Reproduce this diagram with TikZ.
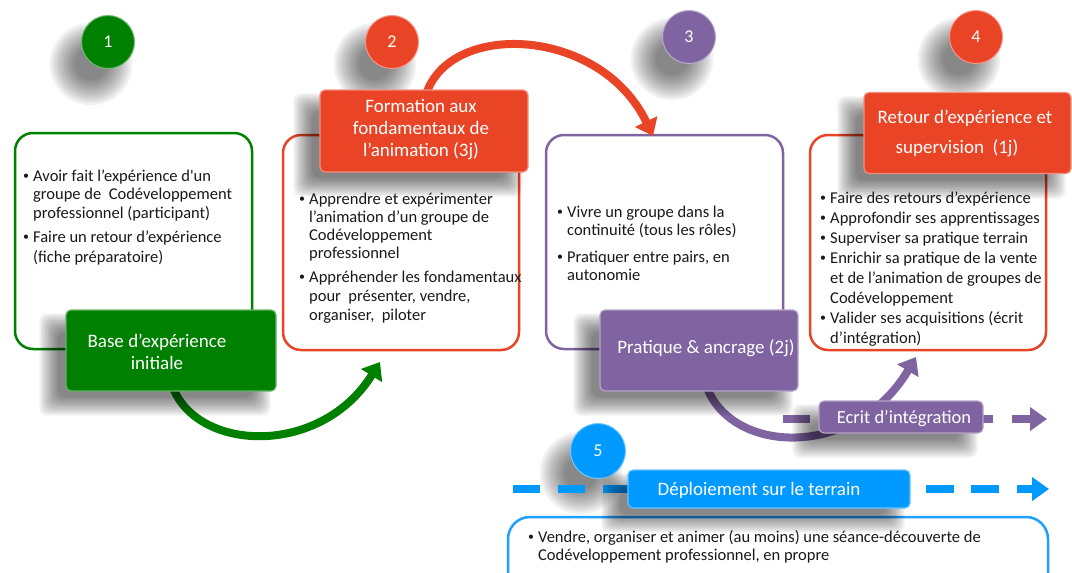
\documentclass[tikz,border=0pt]{standalone}
\usepackage{fontspec}
\setmainfont{Carlito}
\usetikzlibrary{arrows.meta}
\definecolor{cgreen}{RGB}{0,128,0}
\definecolor{cred}{RGB}{233,68,38}
\definecolor{cpurple}{RGB}{128,100,162}
\definecolor{cblue}{RGB}{0,153,255}
\definecolor{cblueline}{RGB}{30,160,255}
\definecolor{tdark}{RGB}{25,25,25}
\newcommand{\bul}[1]{\makebox[10pt][l]{\raisebox{1.2pt}{\scalebox{0.72}{\textbullet}}}\begin{tabular}[t]{@{}l@{}}#1\end{tabular}}
% soft shadow of a rectangle x1 y1 x2 y2
\newcommand{\labshadow}[4]{%
  \foreach \i in {0,...,11}{%
    \fill[black, fill opacity=0.05, rounded corners=8pt]
      ({#1-16+8-\i*1.7},{#2+14+8-\i*1.7}) rectangle ({#3-16-8+\i*1.7},{#4+14-8+\i*1.7});}}
% soft shadow of a ball at cx cy
\newcommand{\ballshadow}[2]{%
  \foreach \i in {0,...,11}{%
    \fill[black, fill opacity=0.05] ({#1-17},{#2+22}) circle ({16+\i*2.3});}}
\tikzset{
  outline/.style={draw, rounded corners=18pt, line width=2.5pt, fill=white, inner sep=0pt},
  lbox/.style={rounded corners=5pt, inner sep=0pt, line width=1.2pt},
  ball/.style={circle, minimum size=53pt, inner sep=0pt, text=white, line width=1pt,
     font=\fontsize{18}{20}\selectfont},
  bitem/.style={anchor=base west, inner sep=0pt, text=tdark, font=\fontsize{16.5}{18.5}\selectfont},
  ltext/.style={text=white, font=\fontsize{19}{22}\selectfont, align=center, inner sep=0pt},
  bigarrow/.style={line width=8pt, -{Triangle[width=24pt,length=16pt]}},
  dashseg/.style={line width=8pt},
  dasharrow/.style={line width=8pt, -{Triangle[width=23pt,length=17pt]}},
}
\begin{document}
\begin{tikzpicture}[x=1pt,y=-1pt]
\useasboundingbox (0,0) rectangle (1072,573);
\clip (0,0) rectangle (1072,573);

% numbered balls
\ballshadow{108}{42}
\ballshadow{392}{42}
\ballshadow{689}{37}
\ballshadow{976}{37}
\ballshadow{598}{451}
\node[ball, fill=cgreen, draw=cgreen!55!white] (n1) at (108,42) {1};
\node[ball, fill=cred, draw=cred!55!white] (n2) at (392,42) {2};
\node[ball, fill=cpurple, draw=cpurple!55!white] (n3) at (689,37) {3};
\node[ball, fill=cred, draw=cred!55!white] (n4) at (976,37) {4};
\node[ball, fill=cblue, draw=cblue!55!white, minimum size=55pt] (n5) at (598,451) {5};

% outline boxes
\node[outline, draw=cgreen, minimum width=237pt, minimum height=216pt] (box1) at (133.5,241) {};
\node[outline, draw=cred, minimum width=236pt, minimum height=215pt] (box2) at (401,242.5) {};
\node[outline, draw=cpurple, minimum width=237pt, minimum height=214pt] (box3) at (664.5,242) {};
\node[outline, draw=cred, minimum width=236pt, minimum height=215pt] (box4) at (928,242.5) {};
\node[outline, draw=cblueline, minimum width=540pt, minimum height=100pt, rounded corners=22pt] (box5) at (778,567) {};

% curved arrows
\coordinate (gS) at (172,385);
\coordinate (gT) at (380,362);
\draw[bigarrow, cgreen] (gS) .. controls (195,452) and (320,458) .. (gT);
\coordinate (rS) at (425,98);
\coordinate (rT) at (653,136);
\draw[bigarrow, cred] (rS) .. controls (445,20) and (600,25) .. (rT);
\coordinate (pS) at (706,385);
\coordinate (pT) at (916,357);
\draw[bigarrow, cpurple] (pS) .. controls (730,455) and (855,460) .. (pT);

% dashed purple line
\coordinate (pd1) at (783,419); \coordinate (pd2) at (810,419);
\coordinate (pd3) at (970,419); \coordinate (pd4) at (993,419);
\coordinate (pd5) at (1012,419); \coordinate (pd6) at (1047,419);
\draw[dashseg, cpurple] (pd1) -- (pd2);
\draw[dashseg, cpurple] (pd3) -- (pd4);
\draw[dasharrow, cpurple] (pd5) -- (pd6);

% dashed blue line
\coordinate (bd1) at (513,489); \coordinate (bd2) at (540,489);
\coordinate (bd3) at (558,489); \coordinate (bd4) at (585,489);
\coordinate (bd5) at (603,489); \coordinate (bd6) at (635,489);
\coordinate (bd7) at (926,489); \coordinate (bd8) at (954,489);
\coordinate (bd9) at (971,489); \coordinate (bd10) at (999,489);
\coordinate (bd11) at (1017,489); \coordinate (bd12) at (1049,489);
\draw[dashseg, cblue] (bd1) -- (bd2);
\draw[dashseg, cblue] (bd3) -- (bd4);
\draw[dashseg, cblue] (bd5) -- (bd6);
\draw[dashseg, cblue] (bd7) -- (bd8);
\draw[dashseg, cblue] (bd9) -- (bd10);
\draw[dasharrow, cblue] (bd11) -- (bd12);

% label shadows
\labshadow{66}{310}{276}{391}
\labshadow{320}{90}{528}{172}
\labshadow{600}{310}{798}{391}
\labshadow{864}{93}{1071}{174}
\labshadow{819}{401}{983}{433}
\labshadow{628}{470}{910}{508}

% label boxes
\node[lbox, fill=cgreen, draw=cgreen!60!white, minimum width=210pt, minimum height=81pt] (lab1) at (171,350.5) {};
\node[lbox, fill=cred, draw=cred!60!white, minimum width=208pt, minimum height=82pt] (lab2) at (424,131) {};
\node[lbox, fill=cpurple, draw=cpurple!60!white, minimum width=198pt, minimum height=81pt] (lab3) at (699,350.5) {};
\node[lbox, fill=cred, draw=cred!60!white, minimum width=207pt, minimum height=81pt] (lab4) at (967.5,133) {};
\node[lbox, fill=cpurple, draw=cpurple!60!white, minimum width=164pt, minimum height=32pt] (lab6) at (901,417) {};
\node[lbox, fill=cblue, draw=cblue!60!white, minimum width=282pt, minimum height=38pt] (lab5) at (769,489) {};

% label texts
\node[ltext] (t1) at (157,352) {Base d’expérience\\initiale};
\node[ltext] (t2) at (421,130) {Formation aux\\fondamentaux de\\l’animation (3j)};
\node[ltext] (t3) at (706,348) {Pratique \& ancrage (2j)};
\node[ltext, anchor=base] (t4a) at (965,123) {Retour d’expérience et};
\node[ltext, anchor=base] (t4b) at (957,153) {supervision~~(1j)};
\node[ltext, font=\fontsize{18.5}{22}\selectfont] (t6) at (904,419) {Ecrit d’intégration};
\node[ltext] (t5) at (759,490) {Déploiement sur le terrain};

% bullet texts box 1
\node[bitem] (b1a) at (23,181) {\bul{Avoir fait l’expérience d\textquotesingle un\\groupe de~~Codéveloppement\\professionnel (participant)}};
\node[bitem, font=\fontsize{16.5}{20}\selectfont] (b1b) at (23,242) {\bul{Faire un retour d’expérience\\(fiche préparatoire)}};
% box 2
\node[bitem, font=\fontsize{16.5}{18.3}\selectfont] (b2a) at (299,204) {\bul{Apprendre et expérimenter\\l’animation d’un groupe de\\Codéveloppement\\professionnel}};
\node[bitem, font=\fontsize{16.5}{19}\selectfont] (b2b) at (299,282) {\bul{Appréhender les fondamentaux\\pour~ présenter, vendre,\\organiser,~ piloter}};
% box 3
\node[bitem, font=\fontsize{16.5}{18}\selectfont] (b3a) at (557,217) {\bul{Vivre un groupe dans la\\continuité (tous les rôles)}};
\node[bitem, font=\fontsize{16.5}{18}\selectfont] (b3b) at (557,262) {\bul{Pratiquer entre pairs, en\\autonomie}};
% box 4
\node[bitem, font=\fontsize{16.5}{20}\selectfont] (b4a) at (820,203) {\bul{Faire des retours d’expérience}};
\node[bitem, font=\fontsize{16.5}{20}\selectfont] (b4b) at (820,223) {\bul{Approfondir ses apprentissages}};
\node[bitem, font=\fontsize{16.5}{20}\selectfont] (b4c) at (820,243) {\bul{Superviser sa pratique terrain}};
\node[bitem, font=\fontsize{16.5}{20}\selectfont] (b4d) at (820,263) {\bul{Enrichir sa pratique de la vente\\et de l’animation de groupes de\\Codéveloppement}};
\node[bitem, font=\fontsize{16.5}{20}\selectfont] (b4e) at (820,323) {\bul{Valider ses acquisitions (écrit\\d’intégration)}};
% box 5
\node[bitem, font=\fontsize{16.5}{18}\selectfont] (b5a) at (528,542) {\bul{Vendre, organiser et animer (au moins) une séance-découverte de\\Codéveloppement professionnel, en propre}};
\end{tikzpicture}
\end{document}
